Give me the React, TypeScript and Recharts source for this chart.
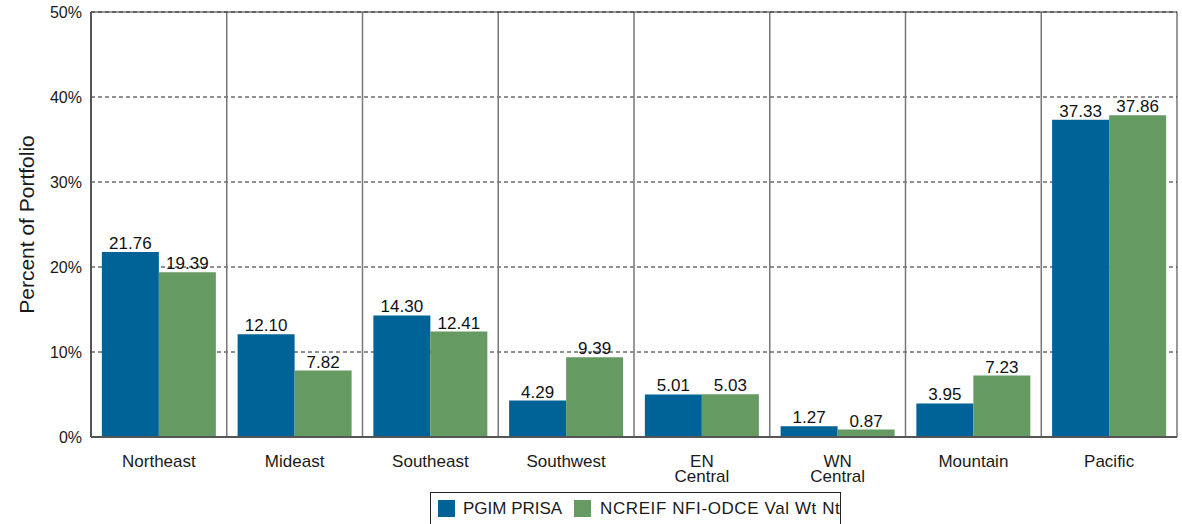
import { BarChart, Bar, XAxis, YAxis, CartesianGrid, LabelList, ReferenceArea } from "recharts";

// Regional weights, percent of portfolio
const REGIONS = ["Northeast", "Mideast", "Southeast", "Southwest", "EN\nCentral", "WN\nCentral", "Mountain", "Pacific"];
const PRISA = [21.76, 12.1, 14.3, 4.29, 5.01, 1.27, 3.95, 37.33];
const ODCE = [19.39, 7.82, 12.41, 9.39, 5.03, 0.87, 7.23, 37.86];
const Y_TICKS = [0, 10, 20, 30, 40, 50];

const BLUE = "#006398";
const GREEN = "#659b63";
const FONT = "Arial, 'Liberation Sans', sans-serif";

const data = REGIONS.map((region, i) => ({ region, prisa: PRISA[i], odce: ODCE[i] }));

function RegionTick(props: any) {
    const { x, y, payload } = props;
    const lines = String(payload.value).split("\n");
    return (
        <text x={x} y={y + 28} textAnchor="middle" fontSize={17} fill="#1a1a1a" fontFamily={FONT}>
            {lines.map((line, i) => (
                <tspan key={i} x={x} dy={i === 0 ? 0 : 15}>
                    {line}
                </tspan>
            ))}
        </text>
    );
}

// separators between regions rather than at the category centres
function regionBoundaries({ offset }: any) {
    const step = offset.width / REGIONS.length;
    return REGIONS.slice(1).map((_, i) => offset.left + step * (i + 1));
}

export default function App() {
    return (
        <div style={{ position: "absolute", left: 0, top: 0, width: 1182, height: 524, background: "#fff", fontFamily: FONT }}>
            <BarChart
                width={1182}
                height={524}
                data={data}
                margin={{ top: 12, right: 5, left: 0, bottom: 0 }}
                barCategoryGap="8%"
                barGap={0}
            >
                <CartesianGrid vertical={false} strokeDasharray="4 3" stroke="#222" />
                <CartesianGrid horizontal={false} stroke="#777" strokeWidth={1.5} verticalCoordinatesGenerator={regionBoundaries} />
                <XAxis
                    dataKey="region"
                    interval={0}
                    tickLine={false}
                    tickSize={0}
                    tick={<RegionTick />}
                    axisLine={{ stroke: "#555", strokeWidth: 2 }}
                    height={87}
                />
                <YAxis
                    domain={[0, 50]}
                    ticks={Y_TICKS}
                    tickFormatter={(v) => `${v}%`}
                    tickLine={false}
                    tickSize={0}
                    tickMargin={9}
                    width={91}
                    axisLine={{ stroke: "#555", strokeWidth: 2 }}
                    tick={{ fill: "#1a1a1a", fontSize: 16, fontFamily: FONT }}
                    label={{
                        value: "Percent of Portfolio",
                        angle: -90,
                        position: "insideLeft",
                        offset: 27,
                        style: { textAnchor: "middle", fontSize: 21, fill: "#1a1a1a", fontFamily: FONT },
                    }}
                />
                <ReferenceArea y1={0} y2={50} fill="none" stroke="#333" strokeWidth={1} ifOverflow="visible" />
                <Bar dataKey="prisa" fill={BLUE} isAnimationActive={false}>
                    <LabelList
                        dataKey="prisa"
                        position="top"
                        offset={3}
                        formatter={(v: any) => Number(v).toFixed(2)}
                        style={{ fill: "#111", fontSize: 17, fontFamily: FONT }}
                    />
                </Bar>
                <Bar dataKey="odce" fill={GREEN} isAnimationActive={false}>
                    <LabelList
                        dataKey="odce"
                        position="top"
                        offset={3}
                        formatter={(v: any) => Number(v).toFixed(2)}
                        style={{ fill: "#111", fontSize: 17, fontFamily: FONT }}
                    />
                </Bar>
            </BarChart>
            <div
                style={{
                    position: "absolute",
                    left: 430,
                    top: 492,
                    width: 411,
                    height: 40,
                    border: "1px solid #222",
                    overflow: "hidden",
                    whiteSpace: "nowrap",
                    fontSize: 17,
                    color: "#1a1a1a",
                    boxSizing: "border-box",
                }}
            >
                <span style={{ position: "absolute", left: 7, top: 7, width: 17, height: 17, background: BLUE }} />
                <span style={{ position: "absolute", left: 32, top: 6, lineHeight: "20px" }}>PGIM PRISA</span>
                <span style={{ position: "absolute", left: 143, top: 7, width: 17, height: 17, background: GREEN }} />
                <span style={{ position: "absolute", left: 169, top: 6, lineHeight: "20px", letterSpacing: 0.6 }}>
                    NCREIF NFI-ODCE Val Wt Nt
                </span>
            </div>
        </div>
    );
}
